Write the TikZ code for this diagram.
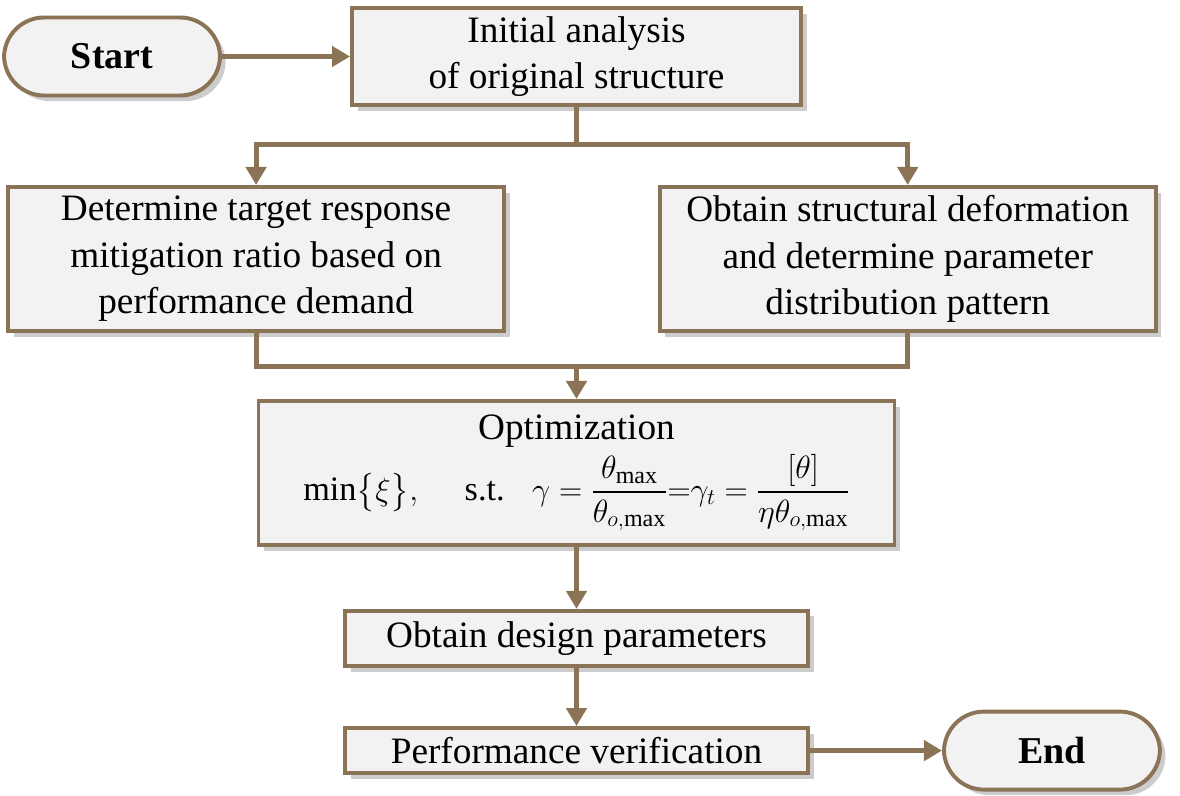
\documentclass[tikz,border=0pt]{standalone}
\usepackage{amsmath}
\usepackage{fontspec}
\setmainfont{Liberation Serif}
\usepackage{tikz}
\usetikzlibrary{positioning, arrows.meta, shadows}
\definecolor{flowbrown}{RGB}{139,115,85}
\definecolor{boxgray}{RGB}{242,242,242}

\begin{document}
\begin{tikzpicture}[node distance=2cm, auto,
    box/.style={rectangle, draw=flowbrown, line width=2.8pt, fill=boxgray, align=center, inner sep=0pt,
        font=\fontsize{26.5}{33}\selectfont,
        drop shadow={shadow xshift=0.14cm, shadow yshift=-0.14cm, fill=black!50, opacity=0.4}},
    term/.style={box, rounded corners=1cm, font=\fontsize{27}{33}\selectfont\bfseries,
        minimum width=5.4cm, minimum height=1.95cm},
    link/.style={draw=flowbrown, line width=3.6pt},
    arr/.style={link, -{Triangle[length=0.45cm, width=0.5cm]}}]
    \useasboundingbox (-14.4125,1.4125) rectangle (15.0875,-18.4875);

    \node[box, minimum width=11.225cm, minimum height=2.425cm] (2) {Initial analysis\\of original structure};
    \node[term, left=3.2cm of 2] (1) {Start};
    \node[box, minimum width=12.4cm, minimum height=3.6cm, below=1.95cm of 2, xshift=-8.01cm] (3)
        {Determine target response\\mitigation ratio based on\\performance demand};
    \node[box, minimum width=12.4cm, minimum height=3.6cm, below=1.95cm of 2, xshift=8.28cm] (4)
        {Obtain structural deformation\\and determine parameter\\distribution pattern};
    \node[box, minimum width=15.9cm, minimum height=3.6cm, below=7.3cm of 2] (5)
        {Optimization\\[4pt]
         \scalebox{0.92}{$\min\bigl\{\xi\bigr\},\hspace{1.2em}\text{s.t.}\hspace{0.8em}
          \gamma=\dfrac{\theta_{\max}}{\theta_{o,\max}}{=}\gamma_t=\dfrac{\left[\theta\right]}{\eta\theta_{o,\max}}$}};
    \node[box, minimum width=11.575cm, minimum height=1.38cm, below=1.55cm of 5] (6) {Obtain design parameters};
    \node[box, minimum width=11.575cm, minimum height=1.13cm, below=1.45cm of 6] (7) {Performance verification};
    \node[term, right=3.3cm of 7] (8) {End};

    \coordinate[below=0.95cm of 2] (s);
    \coordinate[above=0.8cm of 5] (m);

    \draw[arr] (1) -- (2);
    \draw[link] (2) -- (s);
    \draw[arr] (s) -| (3);
    \draw[arr] (s) -| (4);
    \draw[link] (3) |- (m) -| (4);
    \draw[arr] (m) -- (5);
    \draw[arr] (5) -- (6);
    \draw[arr] (6) -- (7);
    \draw[arr] (7) -- (8);
\end{tikzpicture}
\end{document}
